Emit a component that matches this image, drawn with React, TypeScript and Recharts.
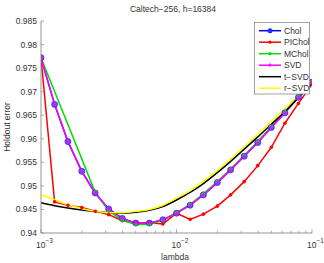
import React from 'react'
import { LineChart, Line, XAxis, YAxis } from 'recharts'

// lambda grid (log spaced, 10 per decade)
const lambdas = [0.001, 0.00126, 0.00158, 0.002, 0.00251, 0.00316, 0.00398, 0.00501, 0.00631, 0.00794, 0.01, 0.0126, 0.0158, 0.02, 0.0251, 0.0316, 0.0398, 0.0501, 0.0631, 0.0794, 0.1]

const chol = [0.9772, 0.9673, 0.9594, 0.9531, 0.9485, 0.9451, 0.9431, 0.9421, 0.9421, 0.9428, 0.9442, 0.9459, 0.9481, 0.9507, 0.9534, 0.9563, 0.9592, 0.9624, 0.9655, 0.9688, 0.972]
const pichol = [0.9772, 0.9466, 0.9459, 0.9454, 0.9446, 0.9439, 0.9426, 0.9422, 0.9422, 0.9419, 0.9442, 0.9429, 0.944, 0.9457, 0.9481, 0.9509, 0.9543, 0.9582, 0.9633, 0.9675, 0.9716]
const mchol = [0.9772, null, null, null, 0.9487, 0.9447, 0.9427, 0.9418, 0.9418, 0.9427, 0.9443, 0.9461, 0.9483, 0.9509, 0.9536, 0.9565, 0.9594, 0.9626, 0.9657, 0.969, 0.9721]
const svd = [0.9772, 0.9673, 0.9594, 0.9531, 0.9485, 0.9451, 0.9431, 0.9421, 0.9421, 0.9428, 0.9442, 0.9459, 0.9481, 0.9507, 0.9534, 0.9563, 0.9592, 0.9624, 0.9655, 0.9688, 0.972]
const tsvd = [0.9464, 0.9458, 0.9453, 0.9449, 0.9446, 0.9443, 0.9442, 0.9444, 0.9448, 0.9456, 0.947, 0.9486, 0.9505, 0.9528, 0.9552, 0.9578, 0.9604, 0.9631, 0.9658, 0.9687, 0.9718]
const rsvd = [0.9482, 0.947, 0.946, 0.9452, 0.9446, 0.9443, 0.9443, 0.9446, 0.945, 0.9459, 0.9474, 0.949, 0.951, 0.9533, 0.9557, 0.9583, 0.961, 0.9637, 0.9664, 0.9693, 0.9725]

const yTicks = [0.94, 0.945, 0.95, 0.955, 0.96, 0.965, 0.97, 0.975, 0.98, 0.985]
const yTickLabels = ['0.94', '0.945', '0.95', '0.955', '0.96', '0.965', '0.97', '0.975', '0.98', '0.985']
const xTicks = [0.001, 0.002, 0.003, 0.004, 0.005, 0.006, 0.007, 0.008, 0.009, 0.01, 0.02, 0.03, 0.04, 0.05, 0.06, 0.07, 0.08, 0.09, 0.1]
const xDecades = [0.001, 0.01, 0.1]
const xDecadeExp = ['\u22123', '\u22122', '\u22121']

const seriesNames = ['Chol', 'PIChol', 'MChol', 'SVD', 't\u2212SVD', 'r\u2212SVD']
const seriesColors = ['#0000ff', '#ff0000', '#00dd00', '#ff00ff', '#000000', '#ffff00']

const rows = lambdas.map((l, i) => ({
  lambda: l,
  chol: chol[i],
  pichol: pichol[i],
  mchol: mchol[i],
  svd: svd[i],
  tsvd: tsvd[i],
  rsvd: rsvd[i],
}))

const FONT = '"Liberation Sans", Arial, sans-serif'
const AXIS = '#7a7a7a'
const TEXT = '#333'

const XTick = (props: any) => {
  const { x, y, payload } = props
  const idx = xDecades.indexOf(payload.value)
  return (
    <g>
      <line x1={x} y1={y} x2={x} y2={y - (idx >= 0 ? 4 : 2.5)} stroke={AXIS} strokeWidth={0.6} />
      {idx >= 0 && (
        <text x={x - 5} y={y + 15} fontSize={8.5} fontFamily={FONT} fill={TEXT}>
          10
          <tspan dy={-5} fontSize={6.5}>{xDecadeExp[idx]}</tspan>
        </text>
      )}
    </g>
  )
}

const YTick = (props: any) => {
  const { x, y, payload } = props
  const idx = yTicks.indexOf(payload.value)
  return (
    <g>
      <line x1={x} y1={y} x2={x + 3} y2={y} stroke={AXIS} strokeWidth={0.6} />
      <text x={x - 4} y={y + 3} textAnchor="end" fontSize={8.5} fontFamily={FONT} fill={TEXT}>
        {idx >= 0 ? yTickLabels[idx] : payload.value}
      </text>
    </g>
  )
}

const CholDot = (props: any) => {
  const { cx, cy, value } = props
  if (value == null || cx == null) return <g />
  return <circle cx={cx} cy={cy} r={3} fill="#7a4cf6" stroke="#2a2aff" strokeWidth={0.8} />
}

const SmallDot = (color: string) => (props: any) => {
  const { cx, cy, value } = props
  if (value == null || cx == null) return <g />
  return <circle cx={cx} cy={cy} r={1.8} fill={color} stroke="none" />
}

const PlusDot = (props: any) => {
  const { cx, cy, value } = props
  if (value == null || cx == null) return <g />
  return (
    <path d={`M${cx - 2.2},${cy}H${cx + 2.2}M${cx},${cy - 2.2}V${cy + 2.2}`} stroke="#ff00ff" strokeWidth={1} />
  )
}

const LegendBox = () => (
  <svg width={324} height={263} style={{ position: 'absolute', left: 0, top: 0, pointerEvents: 'none' }}>
    <text x={173} y={12} textAnchor="middle" fontSize={8.5} fontFamily={FONT} fill={TEXT}>
      Caltech{'\u2212'}256, h=16384
    </text>
    <text
      x={10}
      y={127}
      textAnchor="middle"
      fontSize={8.5}
      fontFamily={FONT}
      fill={TEXT}
      transform="rotate(-90 10 127)"
    >
      Holdout error
    </text>
    <text x={175} y={260} textAnchor="middle" fontSize={8.5} fontFamily={FONT} fill={TEXT}>
      lambda
    </text>
    <rect x={254.5} y={22.5} width={55} height={71.5} fill="#fff" stroke="#8a8a8a" strokeWidth={0.8} />
    {seriesNames.map((name, i) => {
      const y = 30.7 + i * 11.5
      return (
        <g key={name}>
          <line x1={259} y1={y} x2={281} y2={y} stroke={seriesColors[i]} strokeWidth={1.5} />
          {i === 0 && <circle cx={270} cy={y} r={2.5} fill="#2a2aff" />}
          {(i === 1 || i === 2) && <circle cx={270} cy={y} r={1.6} fill={seriesColors[i]} />}
          {i === 3 && <path d={`M268,${y}H272M270,${y - 2}V${y + 2}`} stroke="#ff00ff" strokeWidth={1} />}
          <text x={284} y={y + 3} fontSize={8.5} fontFamily={FONT} fill={TEXT}>
            {name}
          </text>
        </g>
      )
    })}
  </svg>
)

export default function App() {
  return (
    <div style={{ position: 'absolute', left: 0, top: 0, width: 324, height: 263, background: '#fff' }}>
      <LineChart width={324} height={263} data={rows} margin={{ top: 21, right: 12, bottom: 29, left: 40 }}>
        <XAxis
          dataKey="lambda"
          type="number"
          scale="log"
          domain={[0.001, 0.1]}
          allowDataOverflow
          ticks={xTicks}
          interval={0}
          height={1}
          tickSize={0}
          tickMargin={0}
          tickLine={false}
          tick={<XTick />}
          axisLine={{ stroke: AXIS, strokeWidth: 0.8 }}
        />
        <YAxis
          type="number"
          domain={[0.94, 0.985]}
          allowDataOverflow
          ticks={yTicks}
          interval={0}
          width={1}
          tickSize={0}
          tickMargin={0}
          tickLine={false}
          tick={<YTick />}
          axisLine={{ stroke: AXIS, strokeWidth: 0.8 }}
        />
        <Line dataKey="chol" type="linear" stroke="#0000ff" strokeWidth={1.5} dot={<CholDot />} activeDot={false} isAnimationActive={false} />
        <Line dataKey="pichol" type="linear" stroke="#ff0000" strokeWidth={1.5} dot={SmallDot('#ff0000')} activeDot={false} isAnimationActive={false} />
        <Line dataKey="mchol" type="linear" stroke="#00dd00" strokeWidth={1.5} connectNulls dot={SmallDot('#00dd00')} activeDot={false} isAnimationActive={false} />
        <Line dataKey="svd" type="linear" stroke="#ff00ff" strokeWidth={1.5} dot={<PlusDot />} activeDot={false} isAnimationActive={false} />
        <Line dataKey="tsvd" type="monotone" stroke="#000000" strokeWidth={1.5} dot={false} activeDot={false} isAnimationActive={false} />
        <Line dataKey="rsvd" type="monotone" stroke="#ffff00" strokeWidth={1.5} dot={false} activeDot={false} isAnimationActive={false} />
      </LineChart>
      <LegendBox />
    </div>
  )
}
